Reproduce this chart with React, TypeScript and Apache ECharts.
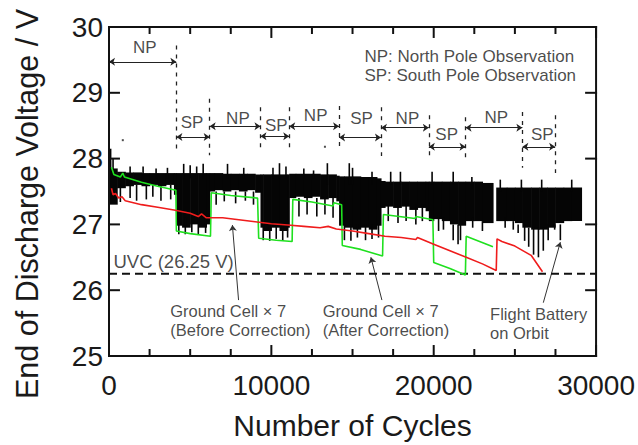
import React, { useEffect, useRef } from 'react';
import * as echarts from 'echarts';

const FONT = '"Liberation Sans", Arial, Helvetica, sans-serif';
const TXT = '#1a1a1a';
const INK = '#111111';

// ---- axes
const xMin = 0, xMax = 30000, xStep = 10000;
const yMin = 25, yMax = 30, yStep = 1;
const xTickValues = [0, 2500, 5000, 7500, 10000, 12500, 15000, 17500, 20000, 22500, 25000, 27500, 30000];
const yTickValues = [26, 27, 28, 29];

// ---- Flight battery on orbit (black band): bins [start -> next start], low / high (V)
const bandStart = [0, 500, 1000, 1500, 2000, 2500, 3000, 3500, 4000, 4150,
  4500, 5000, 5500, 6000, 6200, 6500, 7000, 7500, 8000, 8500,
  9000, 9330, 9500, 10000, 10500, 11000, 11100, 11500, 12000, 12500,
  13000, 13500, 14000, 14170, 14500, 15000, 15500, 16000, 16500, 16750,
  17000, 17500, 18000, 18500, 19000, 19500, 19700, 20000, 20500, 21000,
  21500, 21960, 22500, 23000, 23650, 23850, 24500, 25000, 25460, 26000,
  26500, 27000, 27480, 28000, 28500];
const bandLastEnd = 29100;
const bandLow = [27.3, 27.55, 27.58, 27.6, 27.58, 27.6, 27.58, 27.6, 27.45, 26.98,
  26.95, 27.0, 26.95, 27.0, 27.5, 27.52, 27.5, 27.52, 27.5, 27.52,
  27.48, 26.95, 26.9, 26.95, 26.9, 26.95, 27.4, 27.42, 27.4, 27.42,
  27.38, 27.4, 27.35, 26.98, 26.95, 26.92, 26.95, 26.92, 26.98, 27.25,
  27.27, 27.25, 27.27, 27.22, 27.25, 27.2, 27.05, 27.08, 27.05, 27.0,
  26.98, 27.05, 27.05, 27.02, null, 27.05, 27.05, 27.02, 26.95, 26.92,
  26.92, 26.95, 27.02, 27.05, 27.05];
const bandHigh = [27.85, 27.8, 27.79, 27.79, 27.78, 27.78, 27.78, 27.78, 27.78, 27.78,
  27.78, 27.78, 27.78, 27.78, 27.78, 27.78, 27.77, 27.77, 27.77, 27.77,
  27.76, 27.76, 27.76, 27.76, 27.76, 27.76, 27.77, 27.77, 27.77, 27.77,
  27.76, 27.76, 27.74, 27.73, 27.73, 27.73, 27.72, 27.72, 27.7, 27.66,
  27.65, 27.65, 27.65, 27.65, 27.65, 27.65, 27.65, 27.65, 27.65, 27.65,
  27.65, 27.65, 27.65, 27.63, null, 27.56, 27.56, 27.56, 27.56, 27.56,
  27.56, 27.56, 27.56, 27.56, 27.56];

// thin spikes of the flight battery trace
const spikeX = [100, 250, 1300, 2100, 2900, 3600, 4600, 5000, 5400, 5800,
  7300, 8300, 10100, 10500, 10900, 12000, 12600, 13450, 14800, 15000,
  16200, 17350, 17950, 19900, 21200, 22350, 24100, 25400, 26650, 28500,
  700, 1300, 1700, 2300, 2700, 3200, 3800,
  4300, 4700, 5100, 5500, 5950,
  6600, 7100, 7800, 8400, 8900,
  9500, 9900, 10300, 10700, 11000,
  11700, 12200, 12800, 13300, 13800,
  14500, 14900, 15300, 15800, 16200, 16600,
  17200, 17800, 18300, 18900, 19300,
  20300, 20600, 21200, 21500, 21650,
  22400, 23000, 24400, 24900,
  25200, 25600, 25850, 26150, 26450, 26750, 27050, 27450, 27800];
const spikeLow = [27.7, 27.7, 27.7, 27.7, 27.7, 27.7, 27.7, 27.7, 27.7, 27.7,
  27.7, 27.7, 27.7, 27.7, 27.7, 27.7, 27.7, 27.6, 27.6, 27.6,
  27.6, 27.6, 27.6, 27.6, 27.6, 27.55, 27.5, 27.5, 27.5, 27.5,
  27.34, 27.4, 27.36, 27.38, 27.42, 27.36, 27.38,
  26.85, 26.85, 26.88, 26.85, 26.87,
  27.3, 27.35, 27.32, 27.36, 27.3,
  26.76, 26.75, 26.78, 26.75, 26.8,
  27.12, 27.15, 27.12, 27.15, 27.1,
  26.76, 26.75, 26.8, 26.76, 26.78, 26.8,
  27.05, 27.02, 27.05, 27.0, 27.05,
  26.9, 26.92, 26.76, 26.7, 26.76,
  26.95, 26.9, 26.95, 26.92,
  26.87, 26.75, 26.66, 26.54, 26.5, 26.6, 26.76, 26.92, 26.76];
const spikeHigh = [28.15, 28.0, 27.88, 27.88, 27.85, 27.86, 27.92, 27.9, 27.88, 27.92,
  27.92, 27.86, 27.86, 27.93, 27.88, 27.85, 27.82, 27.93, 27.93, 27.86,
  27.8, 27.8, 27.8, 27.8, 27.8, 27.72, 27.68, 27.68, 27.68, 27.68,
  27.6, 27.6, 27.6, 27.6, 27.6, 27.6, 27.6,
  27.1, 27.1, 27.1, 27.1, 27.1,
  27.5, 27.5, 27.5, 27.5, 27.5,
  27.0, 27.0, 27.0, 27.0, 27.0,
  27.4, 27.4, 27.4, 27.4, 27.4,
  27.0, 27.0, 27.0, 27.0, 27.0, 27.0,
  27.3, 27.3, 27.3, 27.3, 27.3,
  27.1, 27.1, 27.0, 27.0, 27.0,
  27.1, 27.05, 27.1, 27.05,
  27.0, 27.0, 26.95, 26.95, 26.95, 26.95, 27.0, 27.0, 27.0];

const strayX = [850, 13300];
const strayY = [28.28, 28.18];

// ---- Ground cell x7 (after correction), green
const greenX = [150, 300, 700, 850, 950, 2000, 3000, 4120, 4150, 5000, 6250, 6300, 7500, 9150,
  9220, 10300, 11280, 11320, 12500, 13800, 13850, 14330, 14370, 15500, 16850, 16900, 18850,
  18900, 19950, 20000, 21000, 21950, 22000, 23650];
const greenY = [27.87, 27.76, 27.72, 27.78, 27.72, 27.64, 27.58, 27.52, 26.9, 26.86, 26.82, 27.48, 27.44, 27.4,
  26.79, 26.76, 26.74, 27.38, 27.34, 27.28, 27.33, 27.3, 26.68, 26.62, 26.52, 27.15, 27.09,
  27.12, 27.07, 26.42, 26.33, 26.23, 26.82, 26.66];

// ---- Ground cell x7 (before correction), red
const redX = [150, 250, 400, 600, 800, 1000, 2000, 3000, 4000, 5000, 5500, 5700, 6000, 7000,
  8000, 9000, 10000, 11000, 12000, 13000, 13500, 14000, 15000, 16000, 17000, 18000, 18900,
  19000, 20000, 21000, 22000, 23000, 23850, 23900, 24200, 25000, 26000, 26700];
const redY = [27.55, 27.45, 27.47, 27.4, 27.42, 27.36, 27.3, 27.26, 27.22, 27.17, 27.12, 27.16, 27.1, 27.1,
  27.07, 27.04, 27.01, 26.99, 26.97, 26.95, 26.97, 26.93, 26.9, 26.86, 26.82, 26.8, 26.77,
  26.8, 26.7, 26.6, 26.5, 26.4, 26.3, 26.78, 26.74, 26.67, 26.53, 26.28];

const uvcLevel = 26.25;

// ---- observation phases
const phaseBounds = [4150, 6200, 9330, 11100, 14170, 16750, 19700, 21960, 25460, 27480];
const phaseLineTop = [29.72, 28.91, 28.78, 28.78, 28.8, 28.78, 28.66, 28.63, 28.71, 28.66];
const phaseLineBottom = [28.1, 28.05, 28.1, 28.1, 28.13, 28.04, 28.01, 27.95, 27.86, 27.78];
const phaseNames = ['NP', 'SP', 'NP', 'SP', 'NP', 'SP', 'NP', 'SP', 'NP', 'SP'];
const phaseFrom = [0, 4150, 6200, 9330, 11100, 14170, 16750, 19700, 21960, 25460];
const phaseTo = [4150, 6200, 9330, 11100, 14170, 16750, 19700, 21960, 25460, 27480];
const phaseArrowY = [29.47, 28.33, 28.49, 28.34, 28.49, 28.32, 28.47, 28.18, 28.47, 28.18];
const phaseLabelX = [2200, 5120, 7940, 10300, 12730, 15560, 18380, 20800, 23860, 26690];
const phaseLabelY = [29.69, 28.55, 28.61, 28.51, 28.65, 28.61, 28.61, 28.36, 28.62, 28.36];

// ---- annotations
const noteText = [
  'NP: North Pole Observation\nSP: South Pole Observation',
  'UVC (26.25 V)',
  'Ground Cell × 7\n(Before Correction)',
  'Ground Cell × 7\n(After Correction)',
  'Flight Battery\non Orbit',
];
const noteX = [15700, 245, 3740, 13130, 23440];
const noteY = [29.4, 26.43, 25.54, 25.54, 25.49];
const noteSize = [17, 18.5, 16.5, 16.5, 16.5];

const pointerFrom = [[7980, 25.85], [16810, 25.85], [26750, 25.81]];
const pointerTo = [[7600, 26.99], [16130, 26.5], [27800, 26.73]];

const W = 638, H = 445;
const GRID = { left: 109, right: 40, top: 27, bottom: 88 };

function buildOption() {
  const bandData: number[][] = [];
  for (let i = 0; i < bandStart.length; i++) {
    if (bandLow[i] == null || bandHigh[i] == null) continue;
    const end = i < bandStart.length - 1 ? bandStart[i + 1] : bandLastEnd;
    bandData.push([bandStart[i], end, bandLow[i] as number, bandHigh[i] as number]);
  }
  const spikeData = spikeX.map((x, i) => [x, spikeLow[i], spikeHigh[i]]);

  // frame + inward ticks as filled bars, from tick values through the axis scale
  const cyclesPerPx = (xMax - xMin) / (W - GRID.left - GRID.right);
  const voltsPerPx = (yMax - yMin) / (H - GRID.top - GRID.bottom);
  const frameData: number[][] = [
    [xMin, yMin, xMax, yMin],
    [xMin, yMax, xMax, yMax],
    [xMin, yMin, xMin, yMax],
    [xMax, yMin, xMax, yMax],
  ];
  xTickValues.forEach((v) => {
    const len = (v % xStep === 0 ? 10 : 6) * voltsPerPx;
    frameData.push([v, yMin, v, yMin + len]);
    frameData.push([v, yMax, v, yMax - len]);
  });
  yTickValues.forEach((v) => {
    const len = 10 * cyclesPerPx;
    frameData.push([xMin, v, xMin + len, v]);
    frameData.push([xMax, v, xMax - len, v]);
  });

  const axisCommon = {
    type: 'value' as const,
    show: true,
    axisLine: { show: false },
    axisTick: { show: false },
    splitLine: { show: false },
    minorSplitLine: { show: false },
  };

  return {
    animation: false,
    textStyle: { fontFamily: FONT },
    grid: { ...GRID },
    xAxis: [
      {
        ...axisCommon, min: xMin, max: xMax, interval: xStep, position: 'bottom',
        axisLabel: { show: true, fontSize: 28, color: TXT, margin: 15, fontFamily: FONT, formatter: (v: number) => String(v) },
        name: 'Number of Cycles', nameLocation: 'middle', nameGap: 54,
        nameTextStyle: { fontSize: 30, color: TXT, fontFamily: FONT },
      },
    ],
    yAxis: [
      {
        ...axisCommon, min: yMin, max: yMax, interval: yStep, position: 'left',
        axisLabel: { show: true, fontSize: 28, color: TXT, margin: 6, fontFamily: FONT },
      },
    ],
    graphic: [
      {
        type: 'text', x: 27, y: 204, rotation: Math.PI / 2,
        style: {
          text: 'End of Discharge Voltage / V', fontSize: 30.5, fontFamily: FONT, fill: TXT,
          align: 'center', verticalAlign: 'middle',
        },
      },
    ],
    series: [
      {
        name: 'Flight Battery body', type: 'custom', silent: true,
        encode: { x: [0, 1], y: [2, 3] }, clip: true,
        data: bandData,
        renderItem: (params: any, api: any) => {
          const p0 = api.coord([api.value(0), api.value(3)]);
          const p1 = api.coord([api.value(1), api.value(2)]);
          return {
            type: 'rect',
            shape: { x: p0[0], y: p0[1], width: p1[0] - p0[0] + 0.6, height: p1[1] - p0[1] },
            style: { fill: '#050505' },
          };
        },
      },
      {
        name: 'Flight Battery spikes', type: 'custom', silent: true,
        encode: { x: 0, y: [1, 2] }, clip: true,
        data: spikeData,
        renderItem: (params: any, api: any) => {
          const p0 = api.coord([api.value(0), api.value(2)]);
          const p1 = api.coord([api.value(0), api.value(1)]);
          return {
            type: 'rect',
            shape: { x: p0[0] - 0.8, y: p0[1], width: 1.6, height: p1[1] - p0[1] },
            style: { fill: '#050505' },
          };
        },
      },
      {
        name: 'stray', type: 'scatter', silent: true, symbol: 'rect', symbolSize: 2,
        itemStyle: { color: '#222' },
        data: strayX.map((x, i) => [x, strayY[i]]),
      },
      {
        name: 'UVC', type: 'line', silent: true, symbol: 'none',
        lineStyle: { color: '#111', width: 2, type: [8, 5] },
        data: [[xMin, uvcLevel], [xMax, uvcLevel]],
      },
      {
        name: 'After Correction', type: 'line', silent: true, symbol: 'none',
        lineStyle: { color: '#1fe01f', width: 1.6 },
        data: greenX.map((x, i) => [x, greenY[i]]),
      },
      {
        name: 'Before Correction', type: 'line', silent: true, symbol: 'none',
        lineStyle: { color: '#ef1c1c', width: 1.6 },
        data: redX.map((x, i) => [x, redY[i]]),
      },
      {
        name: 'phase bounds', type: 'lines', coordinateSystem: 'cartesian2d', silent: true,
        symbol: ['none', 'none'],
        lineStyle: { color: '#222', width: 1.3, type: [4, 5], opacity: 1 },
        data: phaseBounds.map((x, i) => ({ coords: [[x, phaseLineTop[i]], [x, phaseLineBottom[i]]] })),
      },
      {
        name: 'phase arrows', type: 'lines', coordinateSystem: 'cartesian2d', silent: true,
        symbol: ['arrow', 'arrow'], symbolSize: 6,
        lineStyle: { color: '#222', width: 1.2, opacity: 1 },
        data: phaseFrom.map((x, i) => ({ coords: [[x, phaseArrowY[i]], [phaseTo[i], phaseArrowY[i]]] })),
      },
      {
        name: 'pointers', type: 'lines', coordinateSystem: 'cartesian2d', silent: true,
        symbol: ['none', 'arrow'], symbolSize: 6,
        lineStyle: { color: '#333', width: 1, opacity: 1 },
        data: pointerFrom.map((p, i) => ({ coords: [p, pointerTo[i]] })),
      },
      {
        name: 'frame', type: 'custom', silent: true, clip: false,
        encode: { x: [0, 2], y: [1, 3] },
        data: frameData,
        renderItem: (params: any, api: any) => {
          const a = api.coord([api.value(0), api.value(1)]);
          const b = api.coord([api.value(2), api.value(3)]);
          const x0 = Math.min(a[0], b[0]), x1 = Math.max(a[0], b[0]);
          const y0 = Math.min(a[1], b[1]), y1 = Math.max(a[1], b[1]);
          const t = 2;
          const shape = x1 - x0 < 0.5
            ? { x: x0 - t / 2, y: y0 - t / 2, width: t, height: y1 - y0 + t }
            : { x: x0 - t / 2, y: y0 - t / 2, width: x1 - x0 + t, height: t };
          return { type: 'rect', shape, style: { fill: INK } };
        },
      },
      {
        name: 'phase labels', type: 'scatter', silent: true, symbolSize: 1,
        itemStyle: { color: 'rgba(0,0,0,0)' },
        label: {
          show: true, position: 'inside', fontSize: 17, color: TXT, fontFamily: FONT,
          formatter: (p: any) => phaseNames[p.dataIndex],
        },
        data: phaseLabelX.map((x, i) => [x, phaseLabelY[i]]),
      },
      {
        name: 'notes', type: 'scatter', silent: true, symbolSize: 1,
        itemStyle: { color: 'rgba(0,0,0,0)' },
        data: noteX.map((x, i) => ({
          value: [x, noteY[i]],
          label: {
            show: true, position: 'right', distance: 0, fontSize: noteSize[i], lineHeight: 19,
            color: TXT, fontFamily: FONT, align: 'left',
            formatter: () => noteText[i],
          },
        })),
      },
    ],
  };
}

export default function App() {
  const ref = useRef<HTMLDivElement>(null);
  useEffect(() => {
    document.body.style.margin = '0';
    const chart = echarts.init(ref.current as HTMLDivElement, null, { renderer: 'svg' });
    chart.setOption(buildOption() as any);
    return () => chart.dispose();
  }, []);
  return <div ref={ref} style={{ width: W, height: H, background: '#fff' }} />;
}
